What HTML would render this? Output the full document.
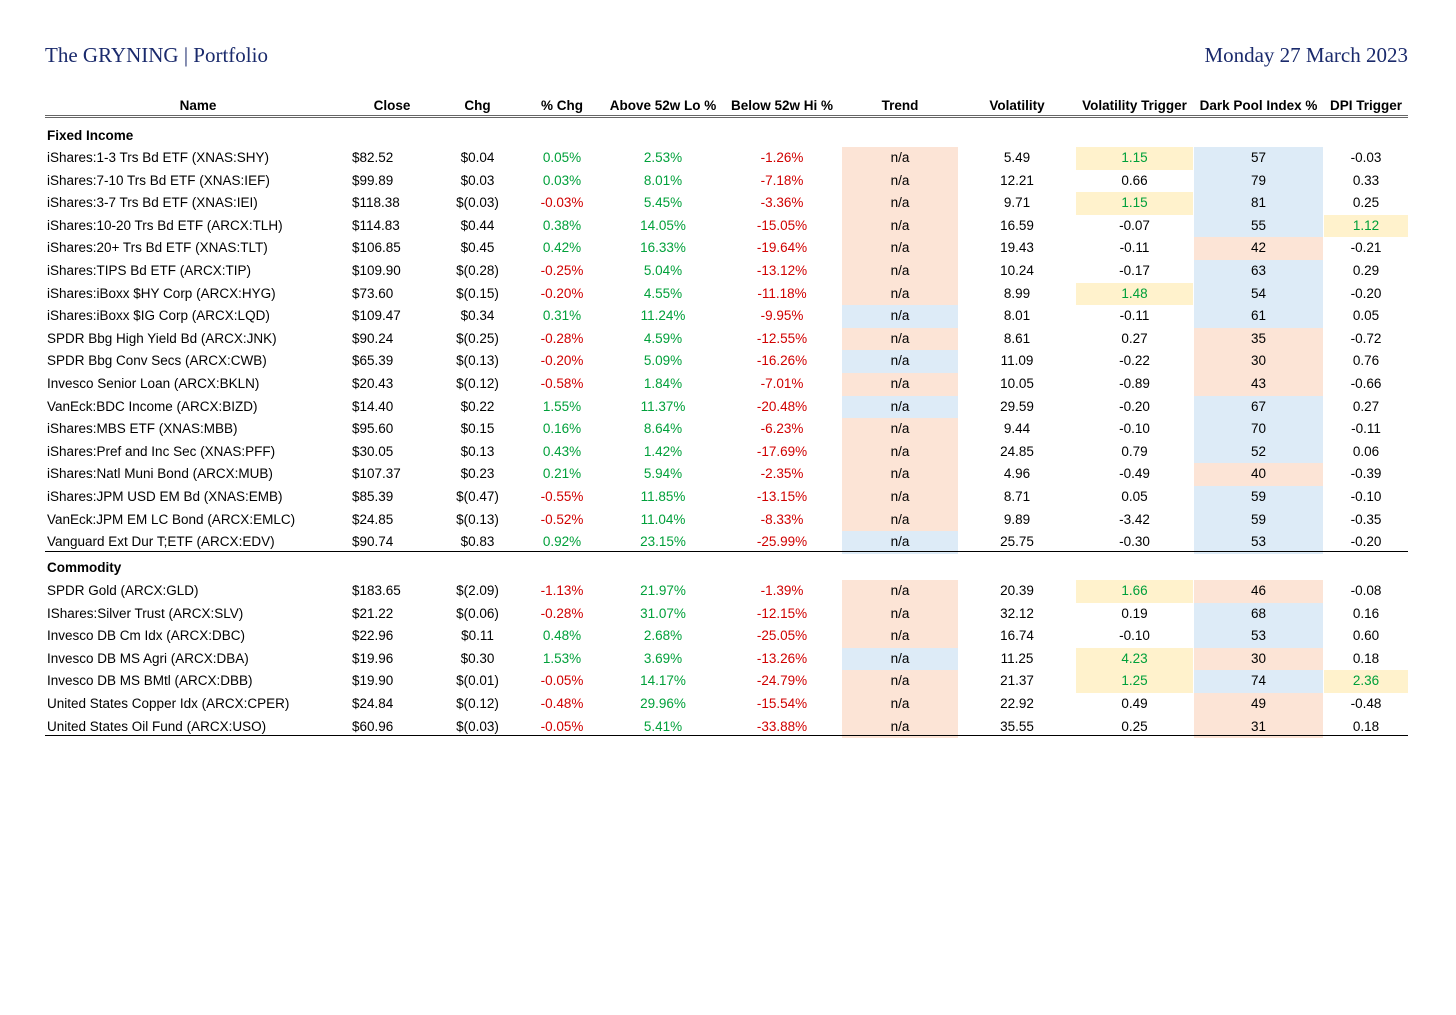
<!DOCTYPE html>
<html><head><meta charset="utf-8">
<style>
body{margin:0;width:1456px;height:1015px;background:#fff;position:relative;overflow:hidden;font-family:"Liberation Sans",Arial,sans-serif;font-size:13.5px;color:#000}
.t{position:absolute;font-family:"Liberation Serif",serif;color:#1a2a6c;font-size:21px;top:43px}
.c{position:absolute;height:22.6px;line-height:22.6px;white-space:nowrap}
.hd{position:absolute;top:98px;font-weight:bold;font-size:13.5px;white-space:nowrap}
.g{color:#00a03a}.r{color:#d00000}
.pe{background:#fce4d6}.bl{background:#ddebf7}.ye{background:#fff2cc}
.line{position:absolute;left:45px;width:1363px;background:#000}
</style></head><body>
<div class="t" style="left:45px">The GRYNING | Portfolio</div>
<div class="t" style="right:48px">Monday 27 March 2023</div>
<div class="line" style="top:115px;height:1px;background:#666"></div>
<div class="line" style="top:117px;height:1px;background:#666"></div>
<div id="tbl"></div>
<script>
const headers=["Name","Close","Chg","% Chg","Above 52w Lo %","Below 52w Hi %","Trend","Volatility","Volatility Trigger","Dark Pool Index %","DPI Trigger"];
const fixedNames=["iShares:1-3 Trs Bd ETF (XNAS:SHY)","iShares:7-10 Trs Bd ETF (XNAS:IEF)","iShares:3-7 Trs Bd ETF (XNAS:IEI)","iShares:10-20 Trs Bd ETF (ARCX:TLH)","iShares:20+ Trs Bd ETF (XNAS:TLT)","iShares:TIPS Bd ETF (ARCX:TIP)","iShares:iBoxx $HY Corp (ARCX:HYG)","iShares:iBoxx $IG Corp (ARCX:LQD)","SPDR Bbg High Yield Bd (ARCX:JNK)","SPDR Bbg Conv Secs (ARCX:CWB)","Invesco Senior Loan (ARCX:BKLN)","VanEck:BDC Income (ARCX:BIZD)","iShares:MBS ETF (XNAS:MBB)","iShares:Pref and Inc Sec (XNAS:PFF)","iShares:Natl Muni Bond (ARCX:MUB)","iShares:JPM USD EM Bd (XNAS:EMB)","VanEck:JPM EM LC Bond (ARCX:EMLC)","Vanguard Ext Dur T;ETF (ARCX:EDV)"];
const commNames=["SPDR Gold (ARCX:GLD)","IShares:Silver Trust (ARCX:SLV)","Invesco DB Cm Idx (ARCX:DBC)","Invesco DB MS Agri (ARCX:DBA)","Invesco DB MS BMtl (ARCX:DBB)","United States Copper Idx (ARCX:CPER)","United States Oil Fund (ARCX:USO)"];
const close=["$82.52","$99.89","$118.38","$114.83","$106.85","$109.90","$73.60","$109.47","$90.24","$65.39","$20.43","$14.40","$95.60","$30.05","$107.37","$85.39","$24.85","$90.74","$183.65","$21.22","$22.96","$19.96","$19.90","$24.84","$60.96"];
const chg=["$0.04","$0.03","$(0.03)","$0.44","$0.45","$(0.28)","$(0.15)","$0.34","$(0.25)","$(0.13)","$(0.12)","$0.22","$0.15","$0.13","$0.23","$(0.47)","$(0.13)","$0.83","$(2.09)","$(0.06)","$0.11","$0.30","$(0.01)","$(0.12)","$(0.03)"];
const pctChg=[0.05,0.03,-0.03,0.38,0.42,-0.25,-0.20,0.31,-0.28,-0.20,-0.58,1.55,0.16,0.43,0.21,-0.55,-0.52,0.92,-1.13,-0.28,0.48,1.53,-0.05,-0.48,-0.05];
const above=[2.53,8.01,5.45,14.05,16.33,5.04,4.55,11.24,4.59,5.09,1.84,11.37,8.64,1.42,5.94,11.85,11.04,23.15,21.97,31.07,2.68,3.69,14.17,29.96,5.41];
const below=[-1.26,-7.18,-3.36,-15.05,-19.64,-13.12,-11.18,-9.95,-12.55,-16.26,-7.01,-20.48,-6.23,-17.69,-2.35,-13.15,-8.33,-25.99,-1.39,-12.15,-25.05,-13.26,-24.79,-15.54,-33.88];
const trendBlue=[0,0,0,0,0,0,0,1,0,1,0,1,0,0,0,0,0,1,0,0,0,1,0,0,0];
const vol=[5.49,12.21,9.71,16.59,19.43,10.24,8.99,8.01,8.61,11.09,10.05,29.59,9.44,24.85,4.96,8.71,9.89,25.75,20.39,32.12,16.74,11.25,21.37,22.92,35.55];
const volTrig=[1.15,0.66,1.15,-0.07,-0.11,-0.17,1.48,-0.11,0.27,-0.22,-0.89,-0.20,-0.10,0.79,-0.49,0.05,-3.42,-0.30,1.66,0.19,-0.10,4.23,1.25,0.49,0.25];
const dpi=[57,79,81,55,42,63,54,61,35,30,43,67,70,52,40,59,59,53,46,68,53,30,74,49,31];
const dpiTrig=[-0.03,0.33,0.25,1.12,-0.21,0.29,-0.20,0.05,-0.72,0.76,-0.66,0.27,-0.11,0.06,-0.39,-0.10,-0.35,-0.20,-0.08,0.16,0.60,0.18,2.36,-0.48,0.18];

const body=document.body;
const hx=[{l:47,w:302},{l:352,w:80},{l:440,w:75},{l:522,w:80},{l:603,w:120},{l:723,w:118},{l:842,w:116},{l:975,w:84},{l:1076,w:117},{l:1194,w:129},{l:1324,w:84}];
headers.forEach((h,i)=>{
  const d=document.createElement('div');
  d.className='hd';
  
  
  d.style.left=hx[i].l+'px';d.style.width=hx[i].w+'px';d.style.textAlign='center';
  d.textContent=h;body.appendChild(d);
});
function cell(x,w,top,text,cls,align){
  const d=document.createElement('div');
  d.className='c '+(cls||'');
  
  
  d.style.left=x+'px';d.style.width=w+'px';d.style.top=top+'px';d.style.textAlign=align||'center';
  d.textContent=text;body.appendChild(d);return d;
}
function sect(text,top){
  const d=document.createElement('div');
  d.className='c';
  
  
  d.style.left='47px';d.style.top=top+'px';d.style.fontWeight='bold';
  d.textContent=text;body.appendChild(d);
}
function pct(v){return v.toFixed(2)+'%';}
function row(i,name,top){
  cell(47,300,top,name,'','left');
  cell(352,80,top,close[i],'','left');
  cell(440,75,top,chg[i]);
  cell(522,80,top,pct(pctChg[i]),pctChg[i]>=0?'g':'r');
  cell(603,120,top,pct(above[i]),'g');
  cell(723,118,top,pct(below[i]),'r');
  cell(842,116,top,'n/a',trendBlue[i]?'bl':'pe');
  cell(975,84,top,vol[i].toFixed(2));
  const vt=volTrig[i]>1;
  cell(1076,117,top,volTrig[i].toFixed(2),vt?'ye g':'');
  cell(1194,129,top,String(dpi[i]),dpi[i]>=50?'bl':'pe');
  const dt=dpiTrig[i]>1;
  cell(1324,84,top,dpiTrig[i].toFixed(2),dt?'ye g':'');
}
sect('Fixed Income',125);
fixedNames.forEach((n,k)=>row(k,n,147+k*22.6));
const ln=document.createElement('div');
ln.className='line';


ln.style.top='551px';ln.style.height='1px';body.appendChild(ln);
sect('Commodity',557);
commNames.forEach((n,k)=>row(18+k,n,580+k*22.6));
const ln2=document.createElement('div');
ln2.className='line';


ln2.style.top='735px';ln2.style.height='1px';body.appendChild(ln2);
</script>
</body></html>
